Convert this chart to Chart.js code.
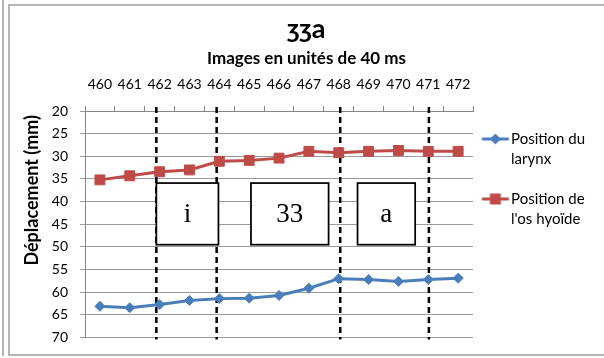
<!DOCTYPE html>
<html>
<head>
<meta charset="utf-8">
<script src="https://cdn.jsdelivr.net/npm/chart.js@4/dist/chart.umd.min.js"></script>
<style>
  html, body { margin: 0; padding: 0; background: #fff; }
  #wrap { position: relative; width: 604px; height: 358px; overflow: hidden; }
  #outer { position: absolute; left: 2px; top: 0; height: 356px; border-left: 2px solid #b4b4b4; }
  #frame { position: absolute; left: 8px; top: 4px; width: 620px; height: 348px;
           border-left: 2px solid #b4b4b4; border-top: 2px solid #b4b4b4; border-bottom: 2px solid #b4b4b4; }
  canvas { position: absolute; left: 0; top: 0; }
</style>
</head>
<body>
<div id="wrap">
  <div id="outer"></div>
  <div id="frame"></div>
  <canvas id="chart" width="604" height="358"></canvas>
</div>
<script>
// image numbers (40 ms units)
const frames = ['460', '461', '462', '463', '464', '465', '466', '467', '468', '469', '470', '471', '472']
// displacement in mm
const larynx = [63.1, 63.4, 62.7, 61.8, 61.4, 61.3, 60.7, 59.1, 57.0, 57.2, 57.6, 57.2, 56.9]
const hyoid = [35.2, 34.3, 33.4, 33.0, 31.1, 30.9, 30.4, 28.9, 29.2, 28.9, 28.7, 28.9, 28.9]
const legendLines = [['Position du', 'larynx'], ['Position de', "l'os hyoïde"]]
const yTitle = 'Déplacement (mm)'

// segmentation, in frame index / mm
const dividers = [1.89, 3.91, 8.05, 11.02]
const segLabels = ['i', '33', 'a']
const segFrom = [1.89, 5.06, 8.63]
const segTo = [3.97, 7.66, 10.56]
const segRange = [35.9, 49.5]

const BLUE = '#4A7EBB'
const RED = '#BE4B48'
const FONT = 'Lato, "Liberation Sans", sans-serif'

Chart.defaults.font.family = FONT
Chart.defaults.color = '#000'

// little line+marker pictures for the legend, like Excel draws them
function legendIcon(color, shape) {
  const c = document.createElement('canvas')
  c.width = 40; c.height = 16
  const g = c.getContext('2d')
  g.strokeStyle = color; g.fillStyle = color; g.lineWidth = 3
  g.beginPath(); g.moveTo(3.5, 8); g.lineTo(30.5, 8); g.stroke()
  g.beginPath()
  if (shape === 'diamond') {
    g.moveTo(17, 2.5); g.lineTo(22.5, 8); g.lineTo(17, 13.5); g.lineTo(11.5, 8); g.closePath()
  } else {
    g.rect(11.5, 2.5, 11, 11)
  }
  g.fill()
  return c
}
const legendIcons = [legendIcon(BLUE, 'diamond'), legendIcon(RED, 'square')]

const segments = {
  id: 'segments',
  beforeDatasetsDraw(chart) {
    const { ctx, chartArea, scales: { x, y } } = chart
    ctx.save()
    ctx.strokeStyle = '#000'
    ctx.lineWidth = 2.5
    ctx.setLineDash([6, 4])
    dividers.forEach(d => {
      const px = x.getPixelForValue(d)
      ctx.beginPath()
      ctx.moveTo(px, chartArea.top - 4)
      ctx.lineTo(px, chartArea.bottom + 2)
      ctx.stroke()
    })
    ctx.setLineDash([])
    ctx.lineWidth = 1.75
    ctx.font = '27px "Liberation Serif", "Times New Roman", serif'
    ctx.textAlign = 'center'
    ctx.textBaseline = 'middle'
    const y0 = y.getPixelForValue(segRange[0])
    const y1 = y.getPixelForValue(segRange[1])
    segLabels.forEach((t, i) => {
      const x0 = x.getPixelForValue(segFrom[i])
      const x1 = x.getPixelForValue(segTo[i])
      ctx.fillStyle = '#fff'
      ctx.fillRect(x0, y0, x1 - x0, y1 - y0)
      ctx.strokeRect(x0, y0, x1 - x0, y1 - y0)
      ctx.fillStyle = '#000'
      ctx.fillText(t, (x0 + x1) / 2, (y0 + y1) / 2 + 1)
    })
    ctx.restore()
  },
  // Excel puts the axis title a bit above the middle of the plot
  afterDraw(chart) {
    const { ctx, scales: { y } } = chart
    ctx.save()
    ctx.translate(y.left + 14, (y.top + y.bottom) / 2 - 34)
    ctx.rotate(-Math.PI / 2)
    ctx.font = 'bold 18px ' + FONT
    ctx.fillStyle = '#000'
    ctx.textAlign = 'center'
    ctx.textBaseline = 'middle'
    ctx.fillText(yTitle, 0, 0)
    ctx.restore()
  }
}

new Chart(document.getElementById('chart'), {
  type: 'line',
  data: {
    labels: frames,
    datasets: [
      {
        label: 'Position du larynx', data: larynx,
        borderColor: BLUE, backgroundColor: BLUE, borderWidth: 3,
        pointStyle: 'rectRot', pointRadius: 5, pointBorderWidth: 1, tension: 0
      },
      {
        label: "Position de l'os hyoïde", data: hyoid,
        borderColor: RED, backgroundColor: RED, borderWidth: 3,
        pointStyle: 'rect', pointRadius: 7, pointBorderWidth: 1, tension: 0
      }
    ]
  },
  options: {
    responsive: false,
    animation: false,
    layout: { padding: { left: 18, right: 9, top: 0, bottom: 20 } },
    plugins: {
      title: {
        display: true, text: 'ʒʒa',
        font: { size: 27, weight: 'bold' }, padding: { top: 12.8, bottom: 0 }
      },
      subtitle: {
        display: true, text: 'Images en unités de 40 ms',
        font: { size: 17, weight: 'bold' }, color: '#000', padding: { top: 3.6, bottom: 0 }
      },
      legend: {
        position: 'right',
        align: 'center',
        title: { display: true, text: '', padding: 4.7, font: { size: 13 } },
        labels: {
          usePointStyle: true, boxWidth: 10.5, boxHeight: 15, padding: 20,
          font: { size: 15, lineHeight: '20px' }, color: '#000',
          generateLabels: chart => chart.data.datasets.map((ds, i) => ({
            text: legendLines[i],
            fillStyle: ds.borderColor,
            strokeStyle: ds.borderColor,
            lineWidth: 0,
            pointStyle: legendIcons[i],
            hidden: false,
            datasetIndex: i
          }))
        }
      },
      tooltip: { enabled: false }
    },
    scales: {
      x: {
        position: 'top',
        offset: true,
        grid: { offset: true, drawOnChartArea: false, tickLength: 5, color: '#868686' },
        border: { color: '#868686' },
        ticks: { autoSkip: false, maxRotation: 0, padding: 13, font: { size: 14 } },
        afterFit: s => { s.height = 41.8 }
      },
      y: {
        reverse: true,
        min: 20,
        max: 70,
        ticks: { stepSize: 5, padding: 12, font: { size: 14 } },
        grid: { color: '#9a9a9a', tickLength: 5 },
        border: { color: '#868686' },
        afterFit: s => { s.width = 67 }
      }
    }
  },
  plugins: [segments]
})
</script>
</body>
</html>
